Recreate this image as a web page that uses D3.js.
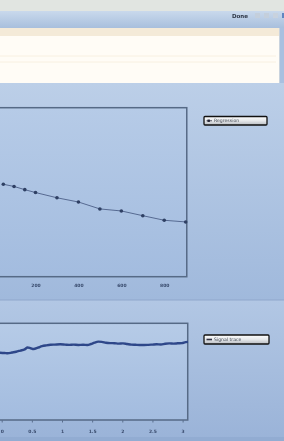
<!DOCTYPE html>
<html>
<head>
<meta charset="utf-8">
<script src="https://cdn.jsdelivr.net/npm/d3@7"></script>
<style>
  body { margin: 0; background: #a9c0e0; }
  svg { display: block; font-family: "DejaVu Sans", sans-serif; }
</style>
</head>
<body>
<div id="root"></div>
<script>
const width = 284;
const height = 441;

// top chart: measured points
const topX = [50, 100, 150, 200, 300, 400, 500, 600, 700, 800, 900];
const topY = [54.7, 53.4, 51.5, 49.8, 46.7, 44.2, 40.1, 38.9, 36.1, 33.4, 32.4];
const topTicks = [200, 400, 600, 800];
const topLegend = "Regression";

// bottom chart: trace
const botX = [-0.03, 0.05, 0.10, 0.17, 0.24, 0.31, 0.38, 0.43, 0.48, 0.53, 0.60, 0.67, 0.74, 0.81,
  0.88, 0.97, 1.05, 1.12, 1.19, 1.27, 1.35, 1.42, 1.48, 1.54, 1.60, 1.66, 1.73, 1.80, 1.87, 1.94,
  2.01, 2.08, 2.15, 2.22, 2.29, 2.36, 2.43, 2.50, 2.57, 2.64, 2.71, 2.78, 2.85, 2.92, 2.99, 3.05, 3.09];
const botY = [6.96, 6.93, 6.90, 6.98, 7.06, 7.18, 7.30, 7.50, 7.42, 7.34, 7.48, 7.64, 7.72, 7.78,
  7.80, 7.83, 7.80, 7.77, 7.79, 7.76, 7.78, 7.76, 7.86, 8.00, 8.10, 8.08, 7.99, 7.95, 7.94, 7.90,
  7.92, 7.86, 7.80, 7.78, 7.76, 7.75, 7.77, 7.80, 7.83, 7.80, 7.88, 7.92, 7.90, 7.93, 7.95, 8.06, 8.08];
const botTicks = [0, 0.5, 1, 1.5, 2, 2.5, 3];
const botTickLabels = ["0", "0.5", "1", "1.5", "2", "2.5", "3"];
const botLegend = "Signal trace";

const svg = d3.select("#root").append("svg")
    .attr("width", width)
    .attr("height", height);

const defs = svg.append("defs");

const grad = (id, stops, x2 = "0", y2 = "1") => {
  const g = defs.append("linearGradient").attr("id", id)
      .attr("x1", 0).attr("y1", 0).attr("x2", x2).attr("y2", y2);
  stops.forEach(([o, c]) => g.append("stop").attr("offset", o).attr("stop-color", c));
};
grad("bgTop", [[0, "#bccfe8"], [1, "#a0b9dc"]]);
grad("bgBot", [[0, "#b2c7e4"], [1, "#9ab3d8"]]);
grad("plotFill", [[0, "#b6cbe7"], [1, "#a3bcdf"]]);
grad("bar", [[0, "#c9d9ec"], [1, "#a8bfdd"]]);
grad("legendFill", [[0, "#ffffff"], [0.5, "#e6e8ea"], [1, "#b8bcc2"]]);

defs.append("filter").attr("id", "soft")
  .append("feGaussianBlur").attr("stdDeviation", 0.45);

// window chrome
svg.append("rect").attr("width", width).attr("height", 11).attr("fill", "#e1e5e1");
svg.append("rect").attr("y", 11).attr("width", width).attr("height", 17).attr("fill", "url(#bar)");
svg.append("text").attr("x", 232).attr("y", 18).attr("font-size", 5.5).attr("font-weight", "bold")
    .attr("fill", "#2c3444").attr("filter", "url(#soft)").text("Done");
[[255, "#c4cfdc"], [264, "#c4cfdc"], [273, "#c8d2de"], [282, "#5f86c0"]].forEach(([x, c]) => {
  svg.append("rect").attr("x", x).attr("y", 13).attr("width", 5).attr("height", 5)
      .attr("fill", c).attr("filter", "url(#soft)");
});
svg.append("rect").attr("y", 28).attr("width", 280).attr("height", 8).attr("fill", "#f4ead8");
svg.append("rect").attr("y", 36).attr("width", 279).attr("height", 47).attr("fill", "#fffcf6");
[56, 62].forEach(y => svg.append("line").attr("x1", 0).attr("x2", 276).attr("y1", y).attr("y2", y)
    .attr("stroke", "#f6eedd").attr("stroke-width", 0.8));
svg.append("line").attr("x1", 279.5).attr("x2", 279.5).attr("y1", 28).attr("y2", 83)
    .attr("stroke", "#c9d3de");

// panels background
svg.append("rect").attr("y", 83).attr("width", width).attr("height", 217).attr("fill", "url(#bgTop)");
svg.append("rect").attr("y", 300).attr("width", width).attr("height", 141).attr("fill", "url(#bgBot)");
svg.append("line").attr("x1", 0).attr("x2", width).attr("y1", 300).attr("y2", 300)
    .attr("stroke", "#8fa8cb").attr("stroke-width", 1.2);
svg.append("rect").attr("y", 437).attr("width", width).attr("height", 4).attr("fill", "#92acd2");

const drawLegend = (x, y, w, h, label, marker) => {
  const g = svg.append("g").attr("transform", `translate(${x},${y})`);
  g.append("rect").attr("width", w).attr("height", h).attr("rx", 1)
      .attr("fill", "url(#legendFill)").attr("stroke", "#111").attr("stroke-width", 1.3);
  g.append("line").attr("x1", 2.5).attr("x2", 8).attr("y1", h / 2).attr("y2", h / 2)
      .attr("stroke", "#334").attr("stroke-width", marker ? 0.8 : 1.6);
  if (marker) g.append("rect").attr("x", 3.5).attr("y", h / 2 - 1.2).attr("width", 2.4).attr("height", 2.4)
      .attr("fill", "#223");
  g.append("text").attr("x", 10).attr("y", h / 2 + 1.7).attr("font-size", 4.6)
      .attr("fill", "#444a55").attr("filter", "url(#soft)").text(label);
};

// ---- top chart
const x1 = d3.scaleLinear().domain([0, 900]).range([-7.4, 185.7]);
const y1 = d3.scaleLinear().domain([0, 100]).range([276.7, 107.7]);

svg.append("rect")
    .attr("x", x1(-120)).attr("y", y1(100))
    .attr("width", x1(905) - x1(-120)).attr("height", y1(0) - y1(100))
    .attr("fill", "url(#plotFill)").attr("stroke", "#566a86").attr("stroke-width", 1.5);

const topPts = topX.map((d, i) => [d, topY[i]]);
svg.append("path").datum(topPts)
    .attr("fill", "none").attr("stroke", "#4d6088").attr("stroke-width", 0.9)
    .attr("filter", "url(#soft)")
    .attr("d", d3.line().x(d => x1(d[0])).y(d => y1(d[1])));
svg.append("g").attr("filter", "url(#soft)")
  .selectAll("circle").data(topPts).join("circle")
    .attr("cx", d => x1(d[0])).attr("cy", d => y1(d[1])).attr("r", 1.8)
    .attr("fill", "#2f3f63");

const ax1 = svg.append("g").attr("transform", `translate(0,${y1(0)})`)
    .attr("filter", "url(#soft)")
    .call(d3.axisBottom(x1).tickValues(topTicks).tickSize(0).tickPadding(7));
ax1.select(".domain").remove();
ax1.selectAll("text").attr("font-size", 4.5).attr("font-weight", "bold")
    .attr("font-family", "DejaVu Sans").attr("fill", "#3a4c6e");

drawLegend(204, 116.5, 63, 8.5, topLegend, true);

// ---- bottom chart
const x2 = d3.scaleLinear().domain([0, 3]).range([1.7, 182.6]);
const y2 = d3.scaleLinear().domain([0, 10]).range([420, 323.3]);

svg.append("rect")
    .attr("x", x2(-0.6)).attr("y", y2(10))
    .attr("width", x2(3.085) - x2(-0.6)).attr("height", y2(0) - y2(10))
    .attr("fill", "url(#plotFill)").attr("stroke", "#566a86").attr("stroke-width", 1.5);

svg.append("path").datum(botX.map((d, i) => [d, botY[i]]))
    .attr("fill", "none").attr("stroke", "#2e4789").attr("stroke-width", 2.4)
    .attr("stroke-linejoin", "round").attr("filter", "url(#soft)")
    .attr("d", d3.line().curve(d3.curveMonotoneX).x(d => x2(d[0])).y(d => y2(d[1])));

const ax2 = svg.append("g").attr("transform", `translate(0,${y2(0)})`)
    .attr("filter", "url(#soft)")
    .call(d3.axisBottom(x2).tickValues(botTicks).tickSize(2.5).tickPadding(7)
      .tickFormat((d, i) => botTickLabels[i]));
ax2.select(".domain").remove();
ax2.selectAll("line").attr("stroke", "#5a6e8e");
ax2.selectAll("text").attr("font-size", 4.5).attr("font-weight", "bold")
    .attr("font-family", "DejaVu Sans").attr("fill", "#3a4c6e");

drawLegend(204, 335, 65, 9, botLegend, false);
</script>
</body>
</html>
